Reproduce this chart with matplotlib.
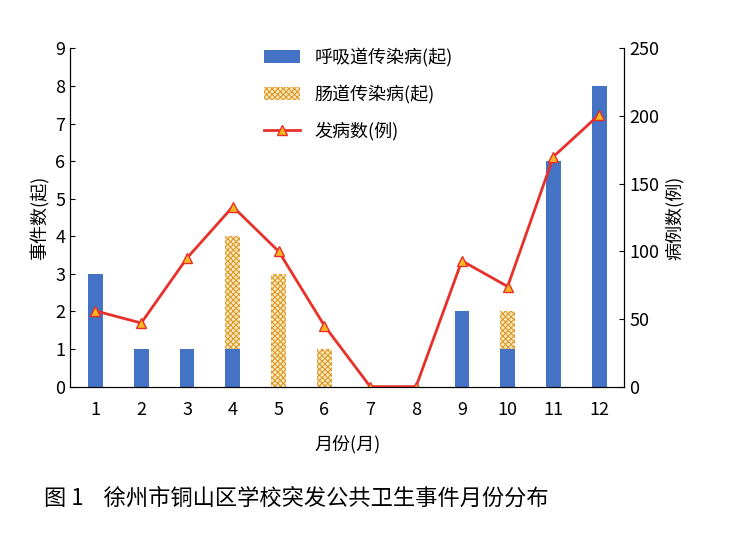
import numpy as np
import matplotlib.pyplot as plt

plt.rcParams['font.family'] = ['Noto Sans CJK SC', 'DejaVu Sans']
plt.rcParams['hatch.linewidth'] = 0.8

months = np.arange(1, 13)
respiratory = [3, 1, 1, 1, 0, 0, 0, 0, 2, 1, 6, 8]
intestinal = [0, 0, 0, 3, 3, 1, 0, 0, 0, 1, 0, 0]
cases = [56, 47, 95, 133, 100, 45, 0, 0, 93, 74, 170, 201]

fig = plt.figure(figsize=(7.39, 5.37), dpi=100)
ax = fig.add_axes([0.095, 0.28, 0.75, 0.63])

ax.bar(months, respiratory, width=0.32, color='#4472c4', label='呼吸道传染病(起)')
ax.bar(months, intestinal, width=0.32, bottom=respiratory, color='#fbe9c0',
       edgecolor='#dc9a2a', hatch='xxxxxx', linewidth=0, label='肠道传染病(起)')
ax.set_ylim(0, 9)
ax.set_xlim(0.45, 12.55)
ax.set_yticks(range(10))
ax.set_xticks(months)
ax.set_ylabel('事件数(起)', fontsize=13)
ax.set_xlabel('月份(月)', fontsize=13, labelpad=12)
ax.tick_params(labelsize=13, direction='in')
ax.tick_params(axis='x', length=0, pad=10)
ax.spines['top'].set_visible(False)

ax2 = ax.twinx()
ax2.plot(months, cases, color='#e8302a', lw=2, marker='^', ms=7,
         mfc='#f5b820', mec='#e8302a', label='发病数(例)')
ax2.set_ylim(0, 250)
ax2.set_yticks(range(0, 251, 50))
ax2.set_ylabel('病例数(例)', fontsize=13)
ax2.tick_params(labelsize=13, direction='in')
ax2.spines['top'].set_visible(False)

h1, l1 = ax.get_legend_handles_labels()
h2, l2 = ax2.get_legend_handles_labels()
ax.legend(h1 + h2, l1 + l2, loc='upper center', bbox_to_anchor=(0.52, 1.05),
          frameon=False, fontsize=13, labelspacing=1.0)

fig.text(0.06, 0.06, '图 1    徐州市铜山区学校突发公共卫生事件月份分布', fontsize=16)
fig.savefig('out.png')
